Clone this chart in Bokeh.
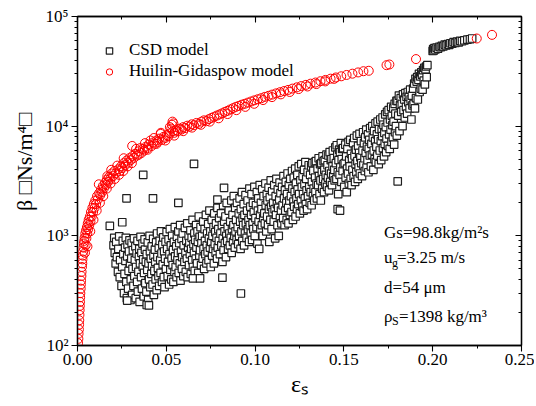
from bokeh.plotting import figure
from bokeh.models import (LogAxis, LinearAxis, SingleIntervalTicker, LogTicker,
                          CustomJSTickFormatter, NumeralTickFormatter, Label, Range1d)
from bokeh.embed import file_html
from bokeh.resources import INLINE

# ---------------- CSD model (eps_s, beta) ----------------
csd_eps_a = [0.0203, 0.0207, 0.0210, 0.0215, 0.0218, 0.0222, 0.0228, 0.0230, 0.0235, 0.0240,
             0.0238, 0.0248, 0.0252, 0.0255, 0.0258, 0.0262, 0.0265, 0.0268, 0.0270, 0.0272, 0.0275, 0.0278, 0.0280,
             0.0282, 0.0285, 0.0288, 0.0290, 0.0293, 0.0296, 0.0298, 0.0300, 0.0303, 0.0305, 0.0308, 0.0310, 0.0312, 0.0315,
             0.0318, 0.0320, 0.0323, 0.0326, 0.0328, 0.0330, 0.0333, 0.0336, 0.0338, 0.0340, 0.0343, 0.0346, 0.0348, 0.0350, 0.0352,
             0.0355, 0.0358, 0.0360, 0.0363, 0.0366, 0.0368, 0.0370, 0.0373, 0.0375, 0.0378, 0.0380, 0.0382,
             0.0385, 0.0388, 0.0390, 0.0393, 0.0396, 0.0398, 0.0400, 0.0403, 0.0406, 0.0408, 0.0410, 0.0413,
             0.0416, 0.0418, 0.0420, 0.0423, 0.0426, 0.0428, 0.0430, 0.0433, 0.0436, 0.0438, 0.0440, 0.0443, 0.0446, 0.0448]
csd_beta_a = [820, 960, 700, 560, 880, 640, 470, 760, 990, 600,
              420, 350, 520, 900, 680, 300, 450, 780, 590, 960, 380, 270, 650,
              830, 330, 480, 720, 910, 560, 260, 400, 620, 860, 290, 500, 740, 350,
              950, 430, 600, 800, 270, 520, 690, 380, 900, 310, 470, 640, 760, 250, 560,
              980, 420, 700, 330, 850, 520, 610, 280, 460, 930, 750, 370,
              580, 310, 680, 490, 870, 260, 560, 400, 1000, 720, 340, 620,
              450, 800, 530, 360, 940, 660, 290, 480, 750, 580, 400, 870, 320, 1050]

csd_eps_b = [0.0450, 0.0453, 0.0456, 0.0458, 0.0460, 0.0463, 0.0466, 0.0468, 0.0470, 0.0473, 0.0476, 0.0478, 0.0480, 0.0483, 0.0486, 0.0488, 0.0490, 0.0493, 0.0496,
             0.0498, 0.0502, 0.0505, 0.0508, 0.0510, 0.0513, 0.0516, 0.0518, 0.0520, 0.0523, 0.0526, 0.0528, 0.0530, 0.0533, 0.0536, 0.0538, 0.0540, 0.0543, 0.0546, 0.0548,
             0.0550, 0.0553, 0.0556, 0.0558, 0.0560, 0.0563, 0.0566, 0.0568, 0.0570, 0.0573, 0.0576, 0.0578, 0.0580, 0.0583, 0.0586, 0.0588, 0.0590, 0.0593, 0.0596, 0.0598,
             0.0602, 0.0605, 0.0608, 0.0610, 0.0613, 0.0616, 0.0618, 0.0620, 0.0623, 0.0626, 0.0628, 0.0630, 0.0633, 0.0636, 0.0638, 0.0640, 0.0643, 0.0646, 0.0648, 0.0650,
             0.0653, 0.0656, 0.0658, 0.0660, 0.0663, 0.0666, 0.0668, 0.0670, 0.0673, 0.0676, 0.0678, 0.0680, 0.0683, 0.0686, 0.0688, 0.0690, 0.0693, 0.0696, 0.0698,
             0.0702, 0.0705, 0.0708, 0.0710, 0.0713, 0.0716, 0.0718, 0.0720, 0.0723, 0.0726, 0.0728, 0.0730, 0.0733, 0.0736, 0.0738, 0.0740, 0.0743, 0.0746, 0.0748, 0.0750]
csd_beta_b = [640, 510, 430, 780, 350, 900, 600, 460, 1100, 690, 380, 830, 550, 970, 420, 720, 340, 620, 880,
              500, 1080, 760, 430, 580, 930, 360, 680, 1150, 490, 820, 400, 620, 1000, 540, 740, 380, 880, 470, 1200,
              650, 520, 800, 420, 980, 600, 700, 1100, 460, 860, 560, 1250, 390, 720, 940, 500, 640, 1050, 430, 820,
              580, 1180, 700, 470, 900, 620, 1300, 420, 780, 1000, 540, 860, 680, 1120, 450, 760, 960, 600, 1400, 520,
              840, 700, 1050, 480, 920, 620, 1250, 780, 560, 1100, 880, 460, 1500, 660, 980, 740, 1200, 540, 860,
              1000, 620, 1350, 760, 500, 1150, 900, 680, 1550, 560, 820, 1050, 720, 1280, 600, 950, 1700, 780, 1100, 520]

csd_eps_c = [0.0753, 0.0756, 0.0758, 0.0760, 0.0763, 0.0766, 0.0768, 0.0770, 0.0773, 0.0776, 0.0778, 0.0780, 0.0783, 0.0786, 0.0788, 0.0790, 0.0793, 0.0796, 0.0798,
             0.0802, 0.0805, 0.0808, 0.0810, 0.0813, 0.0816, 0.0818, 0.0820, 0.0823, 0.0826, 0.0828, 0.0830, 0.0833, 0.0836, 0.0838, 0.0840, 0.0843, 0.0846, 0.0848,
             0.0852, 0.0855, 0.0858, 0.0860, 0.0863, 0.0866, 0.0868, 0.0870, 0.0873, 0.0876, 0.0878, 0.0880, 0.0883, 0.0886, 0.0888, 0.0890, 0.0893, 0.0896, 0.0898,
             0.0902, 0.0905, 0.0908, 0.0910, 0.0913, 0.0916, 0.0918, 0.0920, 0.0923, 0.0926, 0.0928, 0.0930, 0.0933, 0.0936, 0.0938, 0.0940, 0.0943, 0.0946, 0.0948,
             0.0952, 0.0955, 0.0958, 0.0960, 0.0963, 0.0966, 0.0968, 0.0970, 0.0973, 0.0976, 0.0978, 0.0980, 0.0983, 0.0986, 0.0988, 0.0990, 0.0993, 0.0996, 0.0998]
csd_beta_c = [880, 1400, 660, 1000, 760, 1200, 560, 1600, 840, 1080, 700, 1300, 960, 620, 1800, 780, 1150, 900, 1450,
              680, 1050, 1600, 820, 1250, 580, 950, 1900, 740, 1350, 1100, 860, 1500, 640, 1000, 2000, 900, 1200, 760,
              1700, 1050, 820, 1350, 960, 2100, 700, 1150, 1550, 880, 1250, 2300, 1000, 780, 1800, 1100, 1400, 920, 2000,
              1200, 840, 1600, 1000, 2200, 1350, 760, 1750, 1100, 2500, 900, 1450, 1250, 1950, 820, 1550, 1050, 2350, 1300,
              960, 1700, 2100, 1150, 1400, 880, 2700, 1250, 1850, 1050, 1550, 2400, 920, 1300, 2000, 1150, 1650, 2800, 1000]

csd_eps_d = [0.1002, 0.1005, 0.1008, 0.1010, 0.1013, 0.1016, 0.1018, 0.1020, 0.1023, 0.1026, 0.1028, 0.1030, 0.1033, 0.1036, 0.1038, 0.1040, 0.1043, 0.1046, 0.1048,
             0.1052, 0.1055, 0.1058, 0.1060, 0.1063, 0.1066, 0.1068, 0.1070, 0.1073, 0.1076, 0.1078, 0.1080, 0.1083, 0.1086, 0.1088, 0.1090, 0.1093, 0.1096, 0.1098,
             0.1102, 0.1105, 0.1108, 0.1110, 0.1113, 0.1116, 0.1118, 0.1120, 0.1123, 0.1126, 0.1128, 0.1130, 0.1133, 0.1136, 0.1138, 0.1140, 0.1143, 0.1146, 0.1148,
             0.1152, 0.1155, 0.1158, 0.1160, 0.1163, 0.1166, 0.1168, 0.1170, 0.1173, 0.1176, 0.1178, 0.1180, 0.1183, 0.1186, 0.1188, 0.1190, 0.1193, 0.1196, 0.1198,
             0.1202, 0.1205, 0.1208, 0.1210, 0.1213, 0.1216, 0.1218, 0.1220, 0.1223, 0.1226, 0.1228, 0.1230, 0.1233, 0.1236, 0.1238, 0.1240, 0.1243, 0.1246, 0.1248,
             0.1252, 0.1255, 0.1258, 0.1260, 0.1263, 0.1266, 0.1268, 0.1270, 0.1273, 0.1276, 0.1278, 0.1280, 0.1283, 0.1286, 0.1288, 0.1290, 0.1293, 0.1296, 0.1298]
csd_beta_d = [1450, 1900, 1200, 2500, 850, 1700, 2200, 1350, 760, 2900, 1550, 1150, 2000, 1750, 1250, 2650, 1000, 1450, 2300,
              1600, 1300, 3000, 1900, 1100, 2400, 1500, 2100, 1250, 2750, 1750, 880, 2250, 1400, 3200, 1850, 1150, 2550, 1650,
              2000, 1350, 2900, 1750, 950, 2300, 1550, 3300, 1950, 1250, 2650, 1800, 1000, 2150, 3050, 1450, 2450, 1700, 1300,
              2800, 1900, 1450, 3500, 2200, 1250, 2600, 1700, 3100, 2000, 1400, 2400, 3700, 1800, 1300, 2900, 2100, 1550, 3300,
              2300, 1650, 3900, 2700, 1400, 2050, 3400, 1850, 2500, 4100, 1500, 3000, 2200, 1750, 3600, 2650, 1950, 4300, 2400,
              1600, 3200, 2100, 4500, 2800, 1850, 3500, 2400, 1700, 4000, 2950, 2200, 4700, 1950, 3300, 2600, 1750, 3800, 2300]

csd_eps_e = [0.1302, 0.1305, 0.1308, 0.1310, 0.1313, 0.1316, 0.1318, 0.1320, 0.1323, 0.1326, 0.1328, 0.1330, 0.1333, 0.1336, 0.1338, 0.1340, 0.1343, 0.1346, 0.1348,
             0.1352, 0.1355, 0.1358, 0.1360, 0.1363, 0.1366, 0.1368, 0.1370, 0.1373, 0.1376, 0.1378, 0.1380, 0.1383, 0.1386, 0.1388, 0.1390, 0.1393, 0.1396, 0.1398,
             0.1402, 0.1405, 0.1408, 0.1410, 0.1413, 0.1416, 0.1418, 0.1420, 0.1423, 0.1426, 0.1428, 0.1430, 0.1433, 0.1436, 0.1438, 0.1440, 0.1443, 0.1446, 0.1448,
             0.1452, 0.1455, 0.1458, 0.1460, 0.1463, 0.1466, 0.1468, 0.1470, 0.1473, 0.1476, 0.1478, 0.1480, 0.1483, 0.1486, 0.1488, 0.1490, 0.1493, 0.1496, 0.1498,
             0.1502, 0.1505, 0.1508, 0.1510, 0.1513, 0.1516, 0.1518, 0.1520, 0.1523, 0.1526, 0.1528, 0.1530, 0.1533, 0.1536, 0.1538, 0.1540, 0.1543, 0.1546, 0.1548,
             0.1552, 0.1555, 0.1558, 0.1560, 0.1563, 0.1566, 0.1568, 0.1570, 0.1573, 0.1576, 0.1578, 0.1580, 0.1583, 0.1586, 0.1588, 0.1590, 0.1593, 0.1596, 0.1598]
csd_beta_e = [4400, 2800, 2000, 3600, 2500, 4300, 1900, 3100, 4600, 2300, 3900, 2700, 2100, 4700, 3400, 2500, 4800, 3000, 2200,
              4100, 2900, 5100, 3500, 2400, 4500, 3200, 2100, 4600, 3800, 2700, 5300, 3300, 4800, 2500, 4000, 4900, 3000, 3600,
              5500, 2800, 4400, 3400, 5400, 2600, 3900, 5800, 3100, 4900, 3700, 5000, 2900, 4300, 6000, 3500, 5100, 4000, 3200,
              6400, 4600, 3300, 6700, 5500, 3800, 2400, 4900, 6100, 3600, 5800, 4200, 7000, 3100, 5000, 6200, 3900, 6300, 4500,
              2800, 4600, 6800, 3400, 5300, 2500, 4100, 6200, 3700, 7200, 3000, 4900, 4300, 7500, 3300, 5600, 2900, 5100, 4000,
              7000, 3500, 7800, 5400, 3100, 4500, 6100, 3800, 8200, 4800, 3300, 6600, 4200, 5700, 8500, 3700, 5200, 7300, 4600]

csd_eps_f = [0.1602, 0.1605, 0.1608, 0.1610, 0.1613, 0.1616, 0.1618, 0.1620, 0.1623, 0.1626, 0.1628, 0.1630, 0.1633, 0.1636, 0.1638, 0.1640, 0.1643, 0.1646, 0.1648,
             0.1652, 0.1655, 0.1658, 0.1660, 0.1663, 0.1666, 0.1668, 0.1670, 0.1673, 0.1676, 0.1678, 0.1680, 0.1683, 0.1686, 0.1688, 0.1690, 0.1693, 0.1696, 0.1698,
             0.1702, 0.1705, 0.1708, 0.1710, 0.1713, 0.1716, 0.1718, 0.1720, 0.1723, 0.1726, 0.1728, 0.1730, 0.1733, 0.1736, 0.1738, 0.1740, 0.1743, 0.1746, 0.1748,
             0.1752, 0.1755, 0.1758, 0.1760, 0.1763, 0.1766, 0.1768, 0.1770, 0.1773, 0.1776, 0.1778, 0.1780, 0.1783, 0.1786, 0.1788, 0.1790, 0.1793, 0.1796, 0.1798]
csd_beta_f = [3500, 6000, 8800, 4400, 7000, 5100, 3900, 7900, 5700, 9300, 4200, 6500, 4900, 8400, 3800, 6200, 7500, 5400, 9600,
              4300, 6900, 5500, 10000, 7900, 4000, 6000, 9000, 5000, 7300, 10600, 4700, 6500, 8400, 5400, 11000, 7600, 4500, 9400,
              6000, 11500, 7300, 4900, 9200, 8100, 12000, 6300, 10300, 5300, 8700, 6900, 12800, 9800, 5800, 7700, 13500, 10800, 6600,
              14000, 8400, 6200, 11500, 9300, 15000, 7200, 12500, 10200, 7900, 14500, 11000, 6800, 16000, 8800, 13000, 10000, 17000, 8200]

csd_eps_g = [0.1802, 0.1806, 0.1810, 0.1813, 0.1816, 0.1820, 0.1823, 0.1826, 0.1830, 0.1833, 0.1836, 0.1840, 0.1843, 0.1846,
             0.1850, 0.1853, 0.1856, 0.1860, 0.1863, 0.1866, 0.1870, 0.1873, 0.1876, 0.1880, 0.1883, 0.1886, 0.1890,
             0.1893, 0.1896, 0.1900, 0.1903, 0.1906, 0.1910, 0.1913, 0.1916, 0.1920, 0.1923, 0.1926, 0.1930,
             0.1933, 0.1936, 0.1940, 0.1943, 0.1946, 0.1950, 0.1953, 0.1956, 0.1960, 0.1963, 0.1966, 0.1970]
csd_beta_g = [17000, 12500, 19000, 9000, 15500, 18000, 13500, 16000, 10000, 19500, 14000, 17500, 12000, 20000,
              15000, 18500, 13000, 20500, 16500, 18500, 14500, 21500, 17500, 11500, 19000, 15500, 22000,
              16000, 24500, 14500, 27000, 18000, 25500, 28000, 17500, 26500, 30000, 20500, 28500,
              22000, 31000, 29500, 21500, 32500, 26000, 34000, 24000, 33000, 35000, 28000, 36000]

# dense cluster near eps_s = 0.20 - 0.22
csd_eps_top = [0.2000, 0.2003, 0.2006, 0.2010, 0.2015, 0.2022, 0.2030, 0.2038, 0.2045, 0.2052, 0.2060, 0.2068, 0.2075, 0.2085,
               0.2093, 0.2100, 0.2110, 0.2118, 0.2128, 0.2137, 0.2146, 0.2155, 0.2165, 0.2178, 0.2195, 0.2210, 0.2222]
csd_beta_top = [48500, 50500, 49000, 51500, 50000, 52000, 51000, 53000, 52500, 54000, 53500, 55500, 54500, 56000,
                55000, 57000, 56500, 58500, 57500, 59000, 58000, 60000, 59500, 60500, 61500, 62000, 63000]

# isolated points
csd_eps_out = [0.0182, 0.0252, 0.0276, 0.0370, 0.0425, 0.0568, 0.0656, 0.0788, 0.0825, 0.0920, 0.1803, 0.0816,
               0.0650, 0.0690, 0.0390, 0.0280, 0.0402, 0.1465, 0.1478]
csd_beta_out = [1230, 1330, 2200, 3600, 2200, 2000, 4530, 2140, 2740, 298, 3140, 415,
                410, 410, 234, 257, 232, 1750, 1700]

# ---------------- Huilin-Gidaspow model ----------------
hg_eps_a = [0.0003, 0.0005, 0.0006, 0.0008, 0.0009, 0.0010, 0.0011, 0.0012, 0.0013, 0.0014, 0.0015, 0.0016, 0.0018,
            0.0019, 0.0020, 0.0022, 0.0023, 0.0025, 0.0027, 0.0028, 0.0030, 0.0032, 0.0034, 0.0036, 0.0038, 0.0040,
            0.0042, 0.0044, 0.0046, 0.0048, 0.0050, 0.0053, 0.0055, 0.0058, 0.0060, 0.0063, 0.0066, 0.0070,
            0.0073, 0.0076, 0.0080, 0.0084, 0.0088, 0.0092, 0.0096, 0.0100, 0.0105, 0.0110, 0.0115, 0.0120]
hg_beta_a = [105, 115, 128, 140, 155, 170, 190, 210, 230, 250, 275, 300, 330,
             360, 390, 430, 470, 520, 560, 610, 660, 720, 780, 850, 900, 960,
             700, 1050, 820, 1120, 950, 1200, 1050, 1300, 1150, 1400, 1250, 1500,
             1350, 1650, 1500, 1800, 1650, 1950, 1800, 2100, 1950, 2300, 2150, 2950]

hg_eps_b = [0.0122, 0.0128, 0.0133, 0.0138, 0.0143, 0.0148, 0.0155, 0.0160, 0.0166, 0.0172, 0.0178, 0.0185,
            0.0192, 0.0200, 0.0208, 0.0215, 0.0224, 0.0230, 0.0238, 0.0245, 0.0252, 0.0260, 0.0268, 0.0276,
            0.0284, 0.0292, 0.0300, 0.0308, 0.0310, 0.0318, 0.0326, 0.0335, 0.0344, 0.0352, 0.0360, 0.0368, 0.0376,
            0.0385, 0.0394, 0.0402, 0.0411, 0.0418, 0.0426, 0.0435, 0.0444, 0.0452, 0.0460, 0.0468, 0.0476, 0.0485]
hg_beta_b = [2450, 2350, 2650, 2500, 2850, 2700, 3050, 2900, 3250, 3100, 3450, 3300,
             3700, 3500, 3900, 3700, 4370, 4050, 3900, 4300, 4150, 4600, 4400, 4850,
             4650, 5100, 4900, 6600, 5350, 5150, 5600, 5400, 5900, 6300, 5700, 6200, 6000,
             6500, 6300, 6800, 7400, 6600, 7100, 6900, 7400, 7200, 7700, 8500, 7500, 8000]

hg_eps_c = [0.0494, 0.0503, 0.0512, 0.0520, 0.0528, 0.0532, 0.0535, 0.0538, 0.0545, 0.0555, 0.0565, 0.0575,
            0.0585, 0.0595, 0.0605, 0.0618, 0.0630, 0.0643, 0.0656, 0.0670, 0.0684, 0.0698,
            0.0712, 0.0726, 0.0740, 0.0755, 0.0770, 0.0785, 0.0800, 0.0815, 0.0830, 0.0845, 0.0860, 0.0876,
            0.0892, 0.0908, 0.0925, 0.0942, 0.0960, 0.0978, 0.0996, 0.1015, 0.1035, 0.1055, 0.1075, 0.1096,
            0.1118, 0.1140, 0.1163, 0.1186, 0.1210, 0.1235, 0.1260, 0.1286, 0.1312, 0.1340, 0.1368, 0.1396]
hg_beta_c = [7800, 8300, 8100, 8600, 9500, 10300, 11000, 9000, 8700, 9200, 9000, 9500,
             9300, 9800, 9600, 10100, 9900, 10400, 10200, 10700, 10500, 11000,
             11300, 11100, 11600, 11900, 12200, 12500, 12800, 13100, 13500, 13800, 14200, 14600,
             15000, 15300, 15700, 16000, 16400, 16800, 17200, 17600, 18000, 18500, 18900, 19400,
             19900, 20400, 20900, 21400, 22000, 22600, 23200, 23800, 24400, 25000, 25700, 26400]

hg_eps_d = [0.1425, 0.1455, 0.1485, 0.1515, 0.1548, 0.1580, 0.1610, 0.1640, 0.1740, 0.1756, 0.1906, 0.2248, 0.2334]
hg_beta_d = [27100, 27800, 28500, 29300, 30100, 30900, 31700, 32000, 36000, 36500, 40900, 63000, 68000]

hg_eps_e = [0.0345, 0.0395, 0.0445, 0.0495, 0.0545, 0.0595, 0.0645, 0.0695, 0.0745, 0.0795, 0.0845, 0.0895,
            0.0945, 0.0995, 0.1045, 0.1095, 0.1145, 0.1195, 0.1245, 0.1295, 0.1345, 0.1395, 0.1445,
            0.0056, 0.0072, 0.0090, 0.0108, 0.0126, 0.0145, 0.0165, 0.0186, 0.0210, 0.0234,
            0.0258, 0.0282, 0.0306, 0.0168, 0.0190, 0.0260, 0.0330, 0.0380, 0.0430, 0.0470, 0.0520, 0.0540]
hg_beta_e = [5500, 6100, 6900, 7400, 8200, 9000, 9700, 10300, 11000, 11800, 12900, 14000,
             15000, 16000, 17300, 18400, 19500, 20500, 21800, 23000, 24200, 25600, 27000,
             800, 1100, 1400, 1700, 2000, 2300, 2700, 3000, 3300, 3600,
             3900, 4300, 4600, 3500, 4000, 5100, 6200, 7000, 7800, 8700, 9800, 10600]

csd_eps = (csd_eps_a + csd_eps_b + csd_eps_c + csd_eps_d + csd_eps_e + csd_eps_f + csd_eps_g
           + csd_eps_top + csd_eps_out)
csd_beta = (csd_beta_a + csd_beta_b + csd_beta_c + csd_beta_d + csd_beta_e + csd_beta_f + csd_beta_g
            + csd_beta_top + csd_beta_out)
hg_eps = hg_eps_a + hg_eps_b + hg_eps_c + hg_eps_d + hg_eps_e
hg_beta = hg_beta_a + hg_beta_b + hg_beta_c + hg_beta_d + hg_beta_e

x_ticks_interval = 0.05
FONT = "Liberation Serif"

p = figure(width=534, height=404, output_backend="svg", toolbar_location=None,
           x_range=Range1d(0, 0.25), y_range=Range1d(100, 100000), y_axis_type="log",
           min_border_left=77, min_border_right=13, min_border_top=16, min_border_bottom=59)
p.grid.visible = False
p.outline_line_color = "black"
p.outline_line_width = 1.3
p.background_fill_color = "white"
p.border_fill_color = "white"

p.scatter(csd_eps, csd_beta, marker="square", size=7.5, line_color="#1e1e1e",
          fill_color="white", line_width=1.2, legend_label="CSD model")
p.scatter(hg_eps, hg_beta, marker="circle", size=9, line_color="#ff0000",
          fill_color=None, line_width=1, legend_label="Huilin-Gidaspow model")

sup_fmt = CustomJSTickFormatter(code="""
const s = {0:'\u2070',1:'\u00b9',2:'\u00b2',3:'\u00b3',4:'\u2074',5:'\u2075',6:'\u2076'};
const e = Math.round(Math.log10(tick));
return '10' + s[e];
""")

def style_axis(ax, inside=False):
    ax.axis_line_width = 1.3
    ax.axis_line_color = "black"
    ax.major_tick_line_color = "black"
    ax.minor_tick_line_color = "black"
    ax.major_tick_line_width = 1.1
    ax.minor_tick_line_width = 1
    if inside:
        ax.major_tick_in, ax.major_tick_out = 6, 0
        ax.minor_tick_in, ax.minor_tick_out = 3, 0
        ax.major_label_text_font_size = "0px"
        ax.major_label_text_alpha = 0
    else:
        ax.major_tick_in, ax.major_tick_out = 0, 6
        ax.minor_tick_in, ax.minor_tick_out = 0, 3
        ax.major_label_text_font = FONT
        ax.major_label_text_font_size = "17px"
        ax.major_label_text_color = "black"
        ax.axis_label_text_font = FONT
        ax.axis_label_text_font_style = "normal"
        ax.axis_label_text_color = "black"

xa = p.xaxis[0]
xa.ticker = SingleIntervalTicker(interval=x_ticks_interval, num_minor_ticks=2)
xa.formatter = NumeralTickFormatter(format="0.00")
style_axis(xa)
xa.major_label_standoff = 2
xa.axis_label = "\u03b5\u209b"
xa.axis_label_text_font_size = "24px"
xa.axis_label_standoff = 3

ya = p.yaxis[0]
ya.ticker = LogTicker(mantissas=[1], num_minor_ticks=10)
ya.formatter = sup_fmt
style_axis(ya)
ya.major_label_standoff = 3
ya.axis_label = "\u00a0" * 7 + "\u03b2 \u25a1Ns/m\u2074\u25a1"
ya.axis_label_text_font_size = "22px"
ya.axis_label_standoff = 6

top = LinearAxis(ticker=SingleIntervalTicker(interval=x_ticks_interval, num_minor_ticks=2))
style_axis(top, inside=True)
p.add_layout(top, "above")
right = LogAxis(ticker=LogTicker(mantissas=[1], num_minor_ticks=10))
style_axis(right, inside=True)
p.add_layout(right, "right")

lg = p.legend[0]
lg.location = "top_left"
lg.border_line_color = None
lg.background_fill_alpha = 0
lg.label_text_font = FONT
lg.label_text_font_size = "17px"
lg.label_text_color = "black"
lg.glyph_width = 16
lg.glyph_height = 17
lg.label_height = 17
lg.spacing = 1
lg.padding = 0
lg.margin = 24
lg.label_standoff = 12

ax0 = 0.1726
def lab(x, y, text, size="17px", xo=0, yo=0):
    p.add_layout(Label(x=x, y=y, text=text, x_offset=xo, y_offset=yo, text_font=FONT,
                       text_font_size=size, text_baseline="middle", text_color="black"))

lab(ax0, 1072, "Gs=98.8kg/m\u00b2s")
lab(ax0, 634, "u")
lab(ax0, 634, "g", size="12px", xo=8, yo=-5)
lab(ax0, 634, "=3.25 m/s", xo=13)
lab(ax0, 338, "d=54 \u03bcm")
lab(ax0, 184, "\u03c1")
lab(ax0, 184, "S", size="12px", xo=8, yo=-5)
lab(ax0, 184, "=1398 kg/m\u00b3", xo=15)

open("out.html", "w").write(file_html(p, INLINE))
